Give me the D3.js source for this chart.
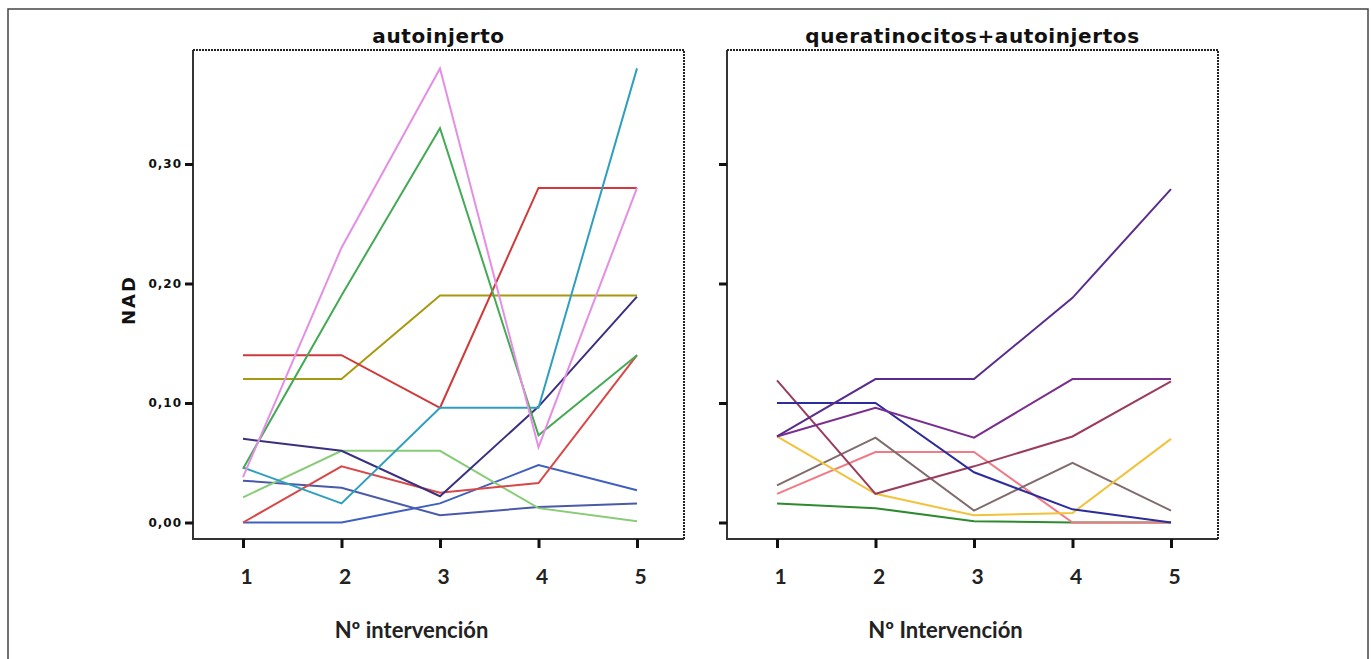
<!DOCTYPE html>
<html>
<head>
<meta charset="utf-8">
<script src="https://cdn.jsdelivr.net/npm/d3@7"></script>
<style>
    body { margin: 0; background: #fff; }
    svg { display: block; }
    .title { font-family: "DejaVu Sans", sans-serif; font-weight: bold; font-size: 20px; fill: #111; letter-spacing: 0.6px; }
    .ytick { font-family: "DejaVu Sans", sans-serif; font-weight: bold; font-size: 12px; fill: #111; letter-spacing: 1px; }
    .xtick { font-family: Lato, sans-serif; font-weight: bold; font-size: 21px; fill: #222; }
    .xlabel { font-family: Lato, sans-serif; font-weight: bold; font-size: 22px; fill: #222; }
    .ylabel { font-family: "DejaVu Sans", sans-serif; font-weight: bold; font-size: 18px; fill: #111; letter-spacing: 2px; }
</style>
</head>
<body>
<div id="chart"></div>
<script>
// x values (intervention number) and y ticks
const intervenciones = [1, 2, 3, 4, 5];
const yTicks = [0, 0.1, 0.2, 0.3];
const yTickLabels = ["0,00", "0,10", "0,20", "0,30"];

// autoinjerto - one array per patient
const autoRosa      = [0.038, 0.23, 0.38, 0.063, 0.28];
const autoVerde     = [0.045, 0.19, 0.33, 0.073, 0.14];
const autoRojo      = [0.14, 0.14, 0.096, 0.28, 0.28];
const autoOliva     = [0.12, 0.12, 0.19, 0.19, 0.19];
const autoTurquesa  = [0.046, 0.016, 0.096, 0.096, 0.38];
const autoMarino    = [0.07, 0.06, 0.022, 0.097, 0.189];
const autoVerdeClaro = [0.021, 0.06, 0.06, 0.012, 0.001];
const autoCarmesi   = [0.0, 0.047, 0.025, 0.033, 0.14];
const autoAzulA     = [0.0, 0.0, 0.016, 0.048, 0.027];
const autoAzulB     = [0.035, 0.029, 0.006, 0.013, 0.016];

// queratinocitos+autoinjertos
const querMorado    = [0.072, 0.12, 0.12, 0.188, 0.279];
const querVioleta   = [0.072, 0.096, 0.071, 0.12, 0.12];
const querAzul      = [0.10, 0.10, 0.042, 0.011, 0.0];
const querGranate   = [0.119, 0.024, 0.047, 0.072, 0.118];
const querGris      = [0.031, 0.071, 0.010, 0.050, 0.010];
const querSalmon    = [0.024, 0.059, 0.059, 0.0, 0.0];
const querAmarillo  = [0.072, 0.024, 0.006, 0.008, 0.070];
const querVerde     = [0.016, 0.012, 0.001, 0.0, 0.0];

const autoSeries = [autoAzulB, autoAzulA, autoVerdeClaro, autoCarmesi, autoMarino, autoOliva,
    autoRojo, autoTurquesa, autoVerde, autoRosa];
const autoColors = ["#4a5aa8", "#4060c0", "#88cc77", "#d84848", "#3a2f80", "#a89a10",
    "#d03a3a", "#2f9fc0", "#44aa55", "#e58ee5"];

const querSeries = [querVerde, querSalmon, querGris, querAmarillo, querGranate, querAzul,
    querVioleta, querMorado];
const querColors = ["#2e8a2e", "#f07a86", "#806c6c", "#f2c23a", "#9a3d5c", "#2c2c9c",
    "#7a2f8f", "#5a2d8c"];

const W = 1371, H = 659;

const svg = d3.select("#chart").append("svg")
    .attr("width", W)
    .attr("height", H);

svg.append("rect")
    .attr("x", 0).attr("y", 0).attr("width", W).attr("height", H)
    .attr("fill", "#fff");

// outer box of the figure
svg.append("rect")
    .attr("x", 8).attr("y", 9)
    .attr("width", 1360).attr("height", 720)
    .attr("fill", "none")
    .attr("stroke", "#444")
    .attr("stroke-width", 1.5);

// shared y scale
const y = d3.scaleLinear().domain([0, 0.3]).range([522.5, 164]);

function drawPanel(left, title, xTitle, series, colors, showLabels) {
    let frame = {left: left, right: left + 491, top: 50, bottom: 539};

    let x = d3.scaleLinear()
        .domain([1, 5])
        .range([left + 50, left + 50 + 4 * 98.5]);

    let g = svg.append("g");

    // lines
    let line = d3.line()
        .x((d, i) => x(intervenciones[i]))
        .y(d => y(d));

    g.selectAll("path.serie")
        .data(series)
        .enter()
        .append("path")
        .attr("class", "serie")
        .attr("d", d => line(d))
        .attr("fill", "none")
        .attr("stroke", (d, i) => colors[i])
        .attr("stroke-width", 2)
        .attr("stroke-linejoin", "miter");

    // frame: solid left and bottom, dotted top and right
    g.append("path")
        .attr("d", "M" + frame.left + "," + frame.top + "V" + frame.bottom + "H" + frame.right)
        .attr("fill", "none")
        .attr("stroke", "#333")
        .attr("stroke-width", 2);
    g.append("path")
        .attr("d", "M" + frame.left + "," + frame.top + "H" + frame.right + "V" + frame.bottom)
        .attr("fill", "none")
        .attr("stroke", "#222")
        .attr("stroke-width", 2)
        .attr("stroke-dasharray", "2,1");

    // y axis
    let yAxis = d3.axisLeft(y)
        .tickValues(yTicks)
        .tickSize(8)
        .tickPadding(3)
        .tickFormat((d, i) => showLabels ? yTickLabels[i] : "");
    let ya = g.append("g")
        .attr("transform", "translate(" + frame.left + ",0)")
        .call(yAxis);
    ya.select(".domain").remove();
    ya.selectAll(".tick line").attr("stroke", "#111").attr("stroke-width", 3);
    ya.selectAll(".tick text").attr("class", "ytick").attr("font-size", null).attr("font-family", null);

    // x axis
    let xAxis = d3.axisBottom(x)
        .tickValues(intervenciones)
        .tickSize(9)
        .tickPadding(21)
        .tickFormat(d3.format("d"));
    let xa = g.append("g")
        .attr("transform", "translate(0," + frame.bottom + ")")
        .call(xAxis);
    xa.select(".domain").remove();
    xa.selectAll(".tick line").attr("stroke", "#111").attr("stroke-width", 3);
    xa.selectAll(".tick text").attr("class", "xtick").attr("font-size", null).attr("font-family", null)
        .attr("dx", 3);

    // titles
    g.append("text")
        .attr("class", "title")
        .attr("x", (frame.left + frame.right) / 2)
        .attr("y", 43)
        .attr("text-anchor", "middle")
        .text(title);

    g.append("text")
        .attr("class", "xlabel")
        .attr("x", (frame.left + frame.right) / 2 - 27)
        .attr("y", 638)
        .attr("text-anchor", "middle")
        .text(xTitle);
}

drawPanel(193, "autoinjerto", "Nº intervención", autoSeries, autoColors, true);
drawPanel(727, "queratinocitos+autoinjertos", "Nº Intervención", querSeries, querColors, false);

// y axis title
svg.append("text")
    .attr("class", "ylabel")
    .attr("transform", "translate(135,300) rotate(-90)")
    .attr("text-anchor", "middle")
    .text("NAD");
</script>
</body>
</html>
